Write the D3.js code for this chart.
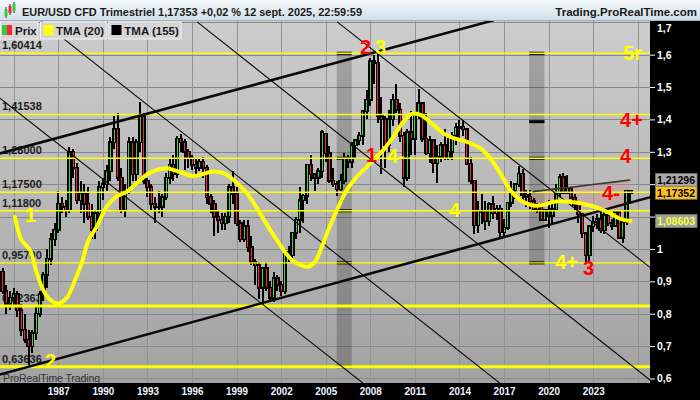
<!DOCTYPE html>
<html><head><meta charset="utf-8">
<script src="https://cdnjs.cloudflare.com/ajax/libs/d3/7.8.5/d3.min.js"></script>
<style>body{margin:0;background:#fff;}svg{display:block;font-family:"Liberation Sans",Arial,sans-serif;}</style>
</head><body><svg id="c" width="700" height="400"></svg>
<script>
// ---------- DATA ----------
const startYear = 1983, startQuarter = 2;
// quarterly candles [open, high, low, close] from 1983 Q2 to 2025 Q3
const ohlc = [
[0.93,0.94,0.86,0.87],[0.87,0.89,0.80,0.83],[0.83,0.87,0.81,0.85],
[0.85,0.88,0.82,0.86],[0.86,0.87,0.79,0.81],[0.81,0.83,0.73,0.75],[0.75,0.80,0.71,0.72],
[0.72,0.75,0.636,0.70],[0.70,0.75,0.68,0.74],[0.74,0.82,0.72,0.80],[0.80,0.87,0.79,0.86],
[0.86,0.93,0.84,0.92],[0.92,1.00,0.88,0.97],[0.97,1.05,0.95,1.03],[1.03,1.08,1.01,1.06],
[1.06,1.18,1.05,1.14],[1.14,1.16,1.11,1.13],[1.13,1.15,1.10,1.12],[1.12,1.315,1.11,1.30],
[1.30,1.31,1.22,1.25],[1.25,1.265,1.14,1.15],[1.15,1.21,1.11,1.17],[1.17,1.20,1.08,1.14],
[1.14,1.19,1.09,1.10],[1.10,1.14,1.03,1.06],[1.06,1.12,1.03,1.11],[1.11,1.21,1.09,1.19],
[1.19,1.22,1.15,1.20],[1.20,1.26,1.18,1.24],[1.24,1.345,1.21,1.33],[1.33,1.41,1.31,1.37],
[1.37,1.42,1.21,1.22],[1.22,1.25,1.11,1.12],[1.12,1.20,1.10,1.18],[1.18,1.345,1.17,1.33],
[1.33,1.345,1.21,1.23],[1.23,1.34,1.21,1.33],[1.33,1.455,1.30,1.41],[1.41,1.42,1.20,1.21],
[1.21,1.22,1.16,1.19],[1.19,1.20,1.12,1.14],[1.14,1.16,1.08,1.13],[1.13,1.18,1.11,1.13],
[1.13,1.17,1.10,1.16],[1.16,1.235,1.15,1.22],[1.22,1.28,1.20,1.26],[1.26,1.29,1.21,1.23],
[1.23,1.35,1.22,1.34],[1.34,1.355,1.30,1.33],[1.33,1.34,1.245,1.30],[1.30,1.31,1.25,1.28],
[1.28,1.29,1.245,1.26],[1.26,1.28,1.23,1.25],[1.25,1.28,1.24,1.27],[1.27,1.285,1.22,1.25],
[1.25,1.26,1.14,1.16],[1.16,1.17,1.11,1.14],[1.14,1.15,1.04,1.10],[1.10,1.12,1.05,1.09],
[1.09,1.11,1.06,1.08],[1.08,1.11,1.06,1.10],[1.10,1.20,1.08,1.19],[1.19,1.24,1.14,1.17],
[1.17,1.19,1.07,1.08],[1.08,1.09,1.02,1.03],[1.03,1.09,1.02,1.07],[1.07,1.09,0.99,1.005],
[1.005,1.04,0.95,0.96],[0.96,0.97,0.89,0.95],[0.95,0.96,0.845,0.88],[0.88,0.94,0.8225,0.94],
[0.94,0.96,0.87,0.88],[0.88,0.90,0.835,0.85],[0.85,0.93,0.835,0.91],[0.91,0.92,0.87,0.89],
[0.89,0.90,0.855,0.87],[0.87,0.99,0.86,0.99],[0.99,1.01,0.96,0.98],[0.98,1.05,0.97,1.05],
[1.05,1.10,1.03,1.09],[1.09,1.19,1.05,1.15],[1.15,1.17,1.08,1.165],[1.165,1.26,1.14,1.26],
[1.26,1.29,1.21,1.23],[1.23,1.23,1.18,1.22],[1.22,1.25,1.20,1.24],[1.24,1.367,1.22,1.36],
[1.355,1.357,1.27,1.296],[1.296,1.318,1.203,1.21],[1.21,1.25,1.19,1.20],[1.20,1.21,1.164,1.184],
[1.184,1.23,1.18,1.21],[1.21,1.297,1.20,1.28],[1.28,1.29,1.25,1.27],[1.27,1.33,1.25,1.32],
[1.32,1.34,1.28,1.335],[1.335,1.36,1.32,1.35],[1.35,1.43,1.32,1.425],[1.425,1.49,1.40,1.46],
[1.46,1.59,1.44,1.58],[1.58,1.60,1.51,1.575],[1.575,1.604,1.39,1.41],[1.41,1.47,1.23,1.40],
[1.40,1.41,1.25,1.32],[1.32,1.43,1.30,1.40],[1.40,1.48,1.38,1.46],[1.46,1.51,1.42,1.43],
[1.43,1.45,1.33,1.35],[1.35,1.36,1.19,1.22],[1.22,1.37,1.21,1.36],[1.36,1.425,1.29,1.34],
[1.34,1.42,1.29,1.415],[1.415,1.494,1.40,1.45],[1.45,1.45,1.33,1.34],[1.34,1.42,1.29,1.295],
[1.295,1.35,1.265,1.335],[1.335,1.34,1.235,1.265],[1.265,1.32,1.205,1.285],[1.285,1.33,1.27,1.32],
[1.32,1.37,1.275,1.28],[1.28,1.342,1.275,1.30],[1.30,1.36,1.275,1.35],[1.35,1.389,1.32,1.375],
[1.375,1.397,1.34,1.378],[1.378,1.399,1.35,1.369],[1.369,1.37,1.26,1.263],[1.263,1.285,1.20,1.21],
[1.21,1.21,1.046,1.073],[1.073,1.147,1.05,1.115],[1.115,1.171,1.077,1.117],[1.117,1.147,1.057,1.086],
[1.086,1.145,1.071,1.138],[1.138,1.162,1.091,1.11],[1.11,1.137,1.09,1.124],[1.124,1.137,1.035,1.052],
[1.052,1.091,1.034,1.065],[1.065,1.145,1.058,1.142],[1.142,1.209,1.131,1.181],[1.181,1.203,1.155,1.2],
[1.2,1.256,1.191,1.232],[1.232,1.248,1.151,1.168],[1.168,1.181,1.13,1.161],[1.161,1.181,1.122,1.147],
[1.147,1.157,1.118,1.122],[1.122,1.142,1.11,1.137],[1.137,1.141,1.089,1.09],[1.09,1.124,1.088,1.121],
[1.121,1.15,1.064,1.103],[1.103,1.142,1.077,1.123],[1.123,1.201,1.117,1.172],[1.172,1.231,1.160,1.222],
[1.222,1.235,1.170,1.173],[1.173,1.227,1.170,1.186],[1.186,1.190,1.156,1.158],[1.158,1.169,1.119,1.137],
[1.137,1.149,1.081,1.107],[1.107,1.112,1.035,1.048],[1.048,1.049,0.954,0.980],[0.980,1.074,0.963,1.070],
[1.070,1.103,1.052,1.084],[1.084,1.109,1.063,1.091],[1.091,1.128,1.049,1.057],[1.057,1.114,1.045,1.104],
[1.104,1.105,1.070,1.079],[1.079,1.092,1.060,1.071],[1.071,1.121,1.067,1.114],[1.114,1.121,1.033,1.035],
[1.035,1.096,1.018,1.082],[1.082,1.183,1.073,1.179],[1.179,1.183,1.139,1.1735]
];
// TMA(20) (decimal year, value)
const tma20Dates = [1984.08,1984.52,1985.09,1985.55,1985.99,1986.44,1987.00,1987.57,1988.13,1988.58,1989.02,1989.59,1990.26,1990.93,1991.61,1992.28,1992.95,1993.63,1994.30,1994.74,1995.42,1995.98,1996.54,1997.44,1998.11,1998.79,1999.69,2000.58,2001.26,2001.71,2002.15,2002.72,2003.28,2003.84,2004.29,2004.74,2005.18,2005.75,2006.42,2007.09,2007.77,2008.21,2008.89,2009.56,2010.23,2010.80,2011.36,2012.25,2012.93,2013.60,2014.50,2015.40,2016.07,2016.74,2017.42,2018.09,2018.99,2019.66,2020.33,2021.24,2022.13,2023.03,2023.93,2024.83,2025.50];
const tma20Values = [1.099,1.028,0.997,0.926,0.873,0.843,0.832,0.849,0.904,0.957,1.025,1.069,1.131,1.162,1.177,1.203,1.229,1.244,1.249,1.244,1.234,1.225,1.229,1.239,1.234,1.213,1.172,1.110,1.059,1.028,0.997,0.966,0.951,0.945,0.961,1.007,1.059,1.120,1.182,1.223,1.254,1.275,1.306,1.347,1.393,1.417,1.414,1.383,1.357,1.342,1.331,1.311,1.280,1.234,1.182,1.151,1.134,1.136,1.146,1.146,1.141,1.131,1.115,1.093,1.086];
// TMA(155)
const tma155Dates = [2018.92,2020.0,2021.5,2023.0,2024.5,2025.5];
const tma155Values = [1.177,1.183,1.190,1.199,1.207,1.213];
// horizontal levels
const levelValues = [1.60414,1.41538,1.28,1.175,1.118,0.957,0.82363,0.63636];
const levelLabels = ["1,60414","1,41538","1,28000","1,17500","1,11800","0,95700","0,82363","0,63636"];
const levelThick = [0,0,0,0,0,0,1,1];
// axes
const yTicks = [0.6,0.7,0.8,0.9,1.0,1.1,1.2,1.3,1.4,1.5,1.6,1.7];
const yTickLabelsShown = [0.6,0.7,0.8,0.9,1.0,1.3,1.4,1.5,1.6];
const yearLabels = [1987,1990,1993,1996,1999,2002,2005,2008,2011,2014,2017,2020,2023];
const gridYears = [1984,1987,1990,1993,1996,1999,2002,2005,2008,2011,2014,2017,2020,2023,2026];
// trend lines [t0,v0,t1,v1,width]
const trendLines = [
 [1983.07,1.295,2016.3,1.706,2.6],
 [1983.07,0.612,2026.85,1.160,2.6],
 [1985.77,1.7066,2016.75,0.5843,1.1],
 [1983.07,1.4654,2007.49,0.5862,1.1],
 [1996.34,1.701,2026.85,0.5945,1.1],
 [2005.77,1.701,2026.85,0.9422,1.1]
];
// vertical zones [t0,t1,vTop,vBottom,marks]
const bands = [
 [2005.74,2006.75,1.609,0.632,[1.60414,1.28,1.118,0.957,0.63636]],
 [2018.69,2019.72,1.609,0.953,[1.60414,1.393,1.28,0.957]]
];
// wave labels [text, t, v, color]
const waveLabels = [
 ["1",1984.76,1.082,"#ffff00"],["2",1986.10,0.632,"#ffff00"],
 ["2",2007.31,1.603,"#ff0000"],["3",2008.32,1.603,"#ffff00"],
 ["1",2007.71,1.270,"#ff0000"],["4-",2009.13,1.264,"#ffff00"],
 ["4",2013.30,1.100,"#ffff00"],["4+",2020.44,0.938,"#ffff00"],
 ["3",2022.32,0.920,"#ff0000"],["4-",2023.60,1.151,"#ff0000"],
 ["4",2024.81,1.266,"#ff0000"],["4+",2024.81,1.378,"#ff0000"],
 ["5r",2025.01,1.584,"#ffff00"]
];
const priceTags = [[1.21296,"1,21296","#a9a9a9","#000"],[1.17352,"1,17352","#ffc21a","#000"],[1.08603,"1,08603","#a0a0a0","#ffff3a"]];

// ---------- CHART ----------
const svg = d3.select("#c");
const plotR = 650, plotT = 21, plotB = 383;
const x = d3.scaleLinear().domain([1987,2023]).range([58.3,593.2]);
const y = d3.scaleLinear().domain([0.63636,1.60414]).range([366.7,53.3]);
const fmt = v => d3.format(".5~f")(v).replace(".",",");

const defs = svg.append("defs");
const g1 = defs.append("linearGradient").attr("id","bg").attr("x1",0).attr("y1",0).attr("x2",0).attr("y2",1);
g1.append("stop").attr("offset","0").attr("stop-color","#cdcdcd");
g1.append("stop").attr("offset","1").attr("stop-color","#a2a2a2");
const g2 = defs.append("linearGradient").attr("id","tb").attr("x1",0).attr("y1",0).attr("x2",0).attr("y2",1);
g2.append("stop").attr("offset","0").attr("stop-color","#f3f8fb");
g2.append("stop").attr("offset","1").attr("stop-color","#cfdee8");
defs.append("clipPath").attr("id","clip").append("rect").attr("x",0).attr("y",plotT).attr("width",plotR).attr("height",plotB-plotT);

svg.append("rect").attr("x",0).attr("y",plotT).attr("width",plotR).attr("height",plotB-plotT).attr("fill","url(#bg)");
const g = svg.append("g").attr("clip-path","url(#clip)");

// grid
g.selectAll(".hg").data(yTicks).join("line").attr("x1",0).attr("x2",plotR)
 .attr("y1",d=>Math.round(y(d))+0.5).attr("y2",d=>Math.round(y(d))+0.5).attr("stroke","#878787").attr("stroke-width",1);
g.selectAll(".vg").data(gridYears).join("line").attr("y1",plotT).attr("y2",plotB)
 .attr("x1",d=>Math.round(x(d))+0.5).attr("x2",d=>Math.round(x(d))+0.5).attr("stroke","#939393").attr("stroke-width",1);

// bands
bands.forEach(b=>{
  g.append("rect").attr("x",x(b[0])).attr("width",x(b[1])-x(b[0])).attr("y",y(b[2])).attr("height",y(b[3])-y(b[2]))
   .attr("fill","#000").attr("opacity",0.2);
  b[4].forEach(m=>g.append("rect").attr("x",x(b[0])).attr("width",x(b[1])-x(b[0])).attr("y",y(m)-1.5).attr("height",3).attr("fill","#000"));
});

// level labels (under candles)
g.selectAll(".ll").data(levelValues).join("text").attr("x",2).attr("y",d=>y(d)-4)
 .attr("font-size",11).attr("font-weight","bold").attr("fill","#1c1c1c").text((d,i)=>levelLabels[i]);

// shading between TMA155 and TMA20
const pts20 = tma20Dates.map((d,i)=>[d,tma20Values[i]]);
const pts155 = tma155Dates.map((d,i)=>[d,tma155Values[i]]);
const shadePts = pts20.filter(p=>p[0]>=2018.9).concat(pts155.slice().reverse());
g.append("path").attr("d",d3.line().x(p=>x(p[0])).y(p=>y(p[1]))(shadePts)+"Z")
 .attr("fill","#d89090").attr("opacity",0.35);

// candles
const cg = g.append("g").attr("shape-rendering","crispEdges");
ohlc.forEach((c,i)=>{
  const t = startYear + (startQuarter-1+i)/4, cx = x(t);
  const [o,h,l,cl] = c;
  cg.append("rect").attr("x",cx-1).attr("width",2).attr("y",y(h)).attr("height",Math.max(1,y(l)-y(h))).attr("fill","#000");
  const top = y(Math.max(o,cl)), bot = y(Math.min(o,cl));
  cg.append("rect").attr("x",cx-2.2).attr("width",4.4).attr("y",top-1).attr("height",Math.max(2,bot-top+2)).attr("fill","#000");
  if (bot-top>1.5) cg.append("rect").attr("x",cx-0.5).attr("width",1).attr("y",top+0.5).attr("height",bot-top-1)
     .attr("fill",cl>=o?"#33dd33":"#ff2040");
});

// levels
g.selectAll(".lv").data(levelValues).join("line").attr("x1",0).attr("x2",plotR)
 .attr("y1",d=>y(d)).attr("y2",d=>y(d)).attr("stroke","#ffff00").attr("stroke-width",(d,i)=>levelThick[i]?3:1.4);

// trend lines
trendLines.forEach(l=>g.append("line").attr("x1",x(l[0])).attr("y1",y(l[1])).attr("x2",x(l[2])).attr("y2",y(l[3]))
 .attr("stroke","#0a0a0a").attr("stroke-width",l[4]));

// TMA155
g.append("path").attr("d",d3.line().x(p=>x(p[0])).y(p=>y(p[1])).curve(d3.curveMonotoneX)(pts155))
 .attr("fill","none").attr("stroke","#3a3434").attr("stroke-width",1.6);
// TMA20
g.append("path").attr("d",d3.line().x(p=>x(p[0])).y(p=>y(p[1])).curve(d3.curveCatmullRom)(pts20))
 .attr("fill","none").attr("stroke","#ffff00").attr("stroke-width",4).attr("stroke-linecap","round").attr("stroke-linejoin","round");

// watermark
g.append("text").attr("x",3).attr("y",381.5).attr("font-size",10.5).attr("fill","#333").attr("textLength",97).text("ProRealTime Trading");

// wave labels
g.selectAll(".wl").data(waveLabels).join("text").attr("x",d=>x(d[1])).attr("y",d=>y(d[2]))
 .attr("font-size",20).attr("font-weight","bold").attr("fill",d=>d[3]).text(d=>d[0]);

// axes backgrounds
svg.append("rect").attr("x",plotR).attr("y",plotT).attr("width",700-plotR).attr("height",400-plotT).attr("fill","#000");
svg.append("rect").attr("x",0).attr("y",plotB).attr("width",700).attr("height",400-plotB).attr("fill","#000");

// right axis
const ay = svg.append("g").attr("transform",`translate(${plotR},0)`)
 .call(d3.axisRight(y).tickValues(yTicks.filter(v=>v<1.65)).tickSize(5).tickPadding(2)
   .tickFormat(v=>yTickLabelsShown.some(s=>Math.abs(s-v)<1e-9)?fmt(v):""));
ay.select(".domain").remove();
ay.selectAll("line").attr("stroke","#fff");
ay.selectAll("text").attr("fill","#fff").attr("font-size",10.5).attr("font-weight","bold").attr("font-family","Liberation Sans, Arial, sans-serif");
svg.append("text").attr("x",plotR+7).attr("y",29).attr("dy","0.32em").attr("fill","#fff").attr("font-size",10.5).attr("font-weight","bold").text(fmt(1.7));

// price tags
priceTags.forEach(p=>{
  const cy = y(p[0]);
  svg.append("rect").attr("x",655.5).attr("y",cy-6.5).attr("width",41.5).attr("height",13).attr("fill",p[2]).attr("stroke","#777").attr("stroke-width",0.8);
  svg.append("text").attr("x",676).attr("y",cy).attr("dy","0.36em").attr("text-anchor","middle").attr("font-size",10.5).attr("font-weight","bold").attr("fill",p[3]).text(p[1]);
});

// bottom axis
const ax = svg.append("g").attr("transform",`translate(0,${plotB})`)
 .call(d3.axisBottom(x).tickValues(yearLabels).tickSize(0).tickPadding(4).tickFormat(d3.format("d")));
ax.select(".domain").remove();
ax.selectAll("text").attr("fill","#eef4ff").attr("font-size",11).attr("font-weight","bold").attr("font-family","Liberation Sans, Arial, sans-serif").attr("textLength",22).attr("lengthAdjust","spacingAndGlyphs");

// title bar
svg.append("rect").attr("x",0).attr("y",0).attr("width",700).attr("height",plotT).attr("fill","url(#tb)");
svg.append("line").attr("x1",0).attr("x2",700).attr("y1",plotT-0.5).attr("y2",plotT-0.5).attr("stroke","#9fb2bf");
const ic = svg.append("g");
[[6,9,16,"#33cc33"],[10,6,13,"#ff2040"],[14,4,11,"#33cc33"]].forEach(c=>{
  ic.append("line").attr("x1",c[0]).attr("x2",c[0]).attr("y1",c[1]-2).attr("y2",c[2]+2).attr("stroke","#333").attr("stroke-width",1);
  ic.append("rect").attr("x",c[0]-1.5).attr("y",c[1]).attr("width",3).attr("height",c[2]-c[1]).attr("fill",c[3]);
});
svg.append("text").attr("x",22).attr("y",15.5).attr("font-size",11.5).attr("font-weight","bold").attr("fill","#1a1a1a")
 .attr("textLength",340).attr("lengthAdjust","spacingAndGlyphs").text("EUR/USD CFD Trimestriel 1,17353 +0,02 % 12 sept. 2025, 22:59:59");
svg.append("text").attr("x",697).attr("y",15.5).attr("text-anchor","end").attr("font-size",11.5).attr("font-weight","bold").attr("fill","#1a1a1a")
 .text("Trading.ProRealTime.com");

// legend
const legend = [["Prix",0,38.3],["TMA (20)",40,106.7],["TMA (155)",108.3,181.7]];
legend.forEach((l,i)=>{
  svg.append("rect").attr("x",l[1]+0.5).attr("y",22).attr("width",l[2]-l[1]-1).attr("height",17).attr("fill","#d5d5d5").attr("stroke","#f2f2f2");
  svg.append("text").attr("x",l[1]+(i==0?15:16)).attr("y",34.5).attr("font-size",11.5).attr("font-weight","bold").attr("fill","#1a1a1a").text(l[0]);
});
svg.append("rect").attr("x",2).attr("y",25).attr("width",5).attr("height",10).attr("fill","#33cc33");
svg.append("rect").attr("x",7).attr("y",25).attr("width",5).attr("height",10).attr("fill","#ff2040");
svg.append("rect").attr("x",43.5).attr("y",25).attr("width",10).attr("height",10).attr("fill","#ffff00");
svg.append("rect").attr("x",111.5).attr("y",25).attr("width",10).attr("height",10).attr("fill","#000");
</script></body></html>
